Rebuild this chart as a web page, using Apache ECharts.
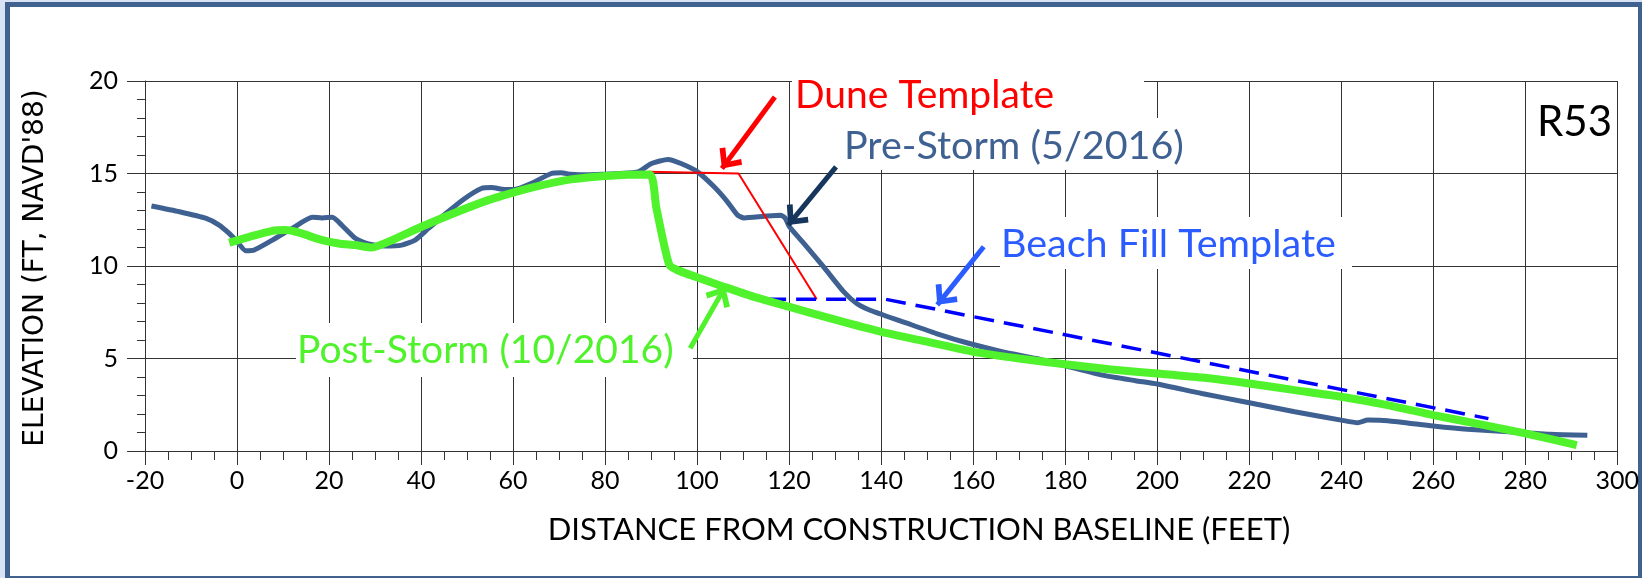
<!DOCTYPE html>
<html lang="en">

<head>
  <meta charset="UTF-8">
  <title>R53 profile</title>
  <style>
    body { margin: 0; background: #dae3f3; overflow: hidden; }
    #frame { position: absolute; left: 5px; top: 2px; width: 1638px; height: 579px; box-sizing: border-box; border: 5px solid #41628f; background: #fff; }
    #chart { position: absolute; left: 0; top: 0; width: 1642px; height: 578px; }
  </style>
</head>

<body>
<div id="frame"></div>
<div id="chart"></div>
  <script src="https://cdn.jsdelivr.net/npm/echarts@6/dist/echarts.min.js"></script>
  <script>

// profile data [distance ft, elevation ft]
const preStorm = [
  [-18.6, 13.24], [-12.5, 12.93], [-6.7, 12.57], [-3.8, 12.2], [-1.7, 11.76], [0.1, 11.3],
  [1.9, 10.83], [3.7, 10.86], [7.7, 11.4], [12, 12.03], [16.4, 12.63], [18.5, 12.6],
  [20.7, 12.63], [22.8, 12.2], [25.7, 11.5], [28.6, 11.19], [32.2, 11.08], [35.8, 11.13],
  [38.7, 11.4], [41.6, 12.03], [45.2, 12.8], [49.5, 13.65], [53.1, 14.19], [55.3, 14.24],
  [58.2, 14.14], [60.3, 14.14], [63.9, 14.46], [68.3, 15.0], [70.4, 15.04], [72.6, 14.96],
  [76.2, 14.93], [79.8, 14.96], [83.4, 15.0], [87.2, 15.09], [90.1, 15.54], [93.7, 15.76],
  [96.5, 15.54], [100.1, 15.09], [103.7, 14.28], [106.6, 13.47], [108.8, 12.75], [110.2, 12.6],
  [114.6, 12.69], [118.2, 12.75], [119.2, 12.57], [120, 12.15], [123.2, 11.22], [127.5, 9.95],
  [131.9, 8.6], [134.7, 7.97], [137.6, 7.61], [144.8, 6.98], [152, 6.35], [159.2, 5.81],
  [166.5, 5.36], [173.7, 5.0], [180.9, 4.55], [188.1, 4.1], [195.3, 3.8], [200, 3.62],
  [209.7, 3.11], [220, 2.61], [229.9, 2.12], [240, 1.67], [243.6, 1.53], [245.8, 1.67],
  [250.1, 1.64], [260, 1.35], [267.4, 1.17], [280, 0.99], [285.4, 0.9], [293.5, 0.85]
];
const postStorm = [
  [-1.7, 11.26], [2.7, 11.58], [7.7, 11.9], [10.6, 11.94], [13.5, 11.8], [18.5, 11.4],
  [22.1, 11.22], [25.7, 11.13], [29.3, 11.0], [33.7, 11.4], [40.1, 12.12], [47.4, 12.88],
  [54.6, 13.56], [60, 13.97], [65.4, 14.32], [72.6, 14.68], [80, 14.87], [89.7, 14.95],
  [91.1, 13.2], [92.6, 11.4], [94, 10.05], [95.8, 9.77], [100.1, 9.38], [105.9, 8.87],
  [112.4, 8.33], [120.1, 7.79], [130.4, 7.07], [140.1, 6.44], [148.4, 5.99], [160.1, 5.36],
  [170, 5.0], [180, 4.69], [189.5, 4.42], [200, 4.19], [209.7, 3.97], [220, 3.65],
  [229.9, 3.29], [240, 2.93], [250.1, 2.48], [260, 1.94], [270.3, 1.44], [280, 0.95], [291.2, 0.32]
];
const duneTemplate = [[89.5, 15.1], [109, 15.0], [126, 8.2]];
const beachFill = [[115, 8.2], [141, 8.2], [272, 1.75]];

// callout arrows: [tail, tip]
const duneArrow = [[116.9, 19.14], [105.4, 15.27]];
const preArrow = [[130.2, 15.36], [119.8, 12.21]];
const beachArrow = [[162.3, 11.04], [152.2, 7.9]];
const postArrow = [[98.5, 5.56], [106.1, 8.88]];

// open arrow head, tip at the centre of its box
const arrowHead = 'path://M0,0 L10,11 L7,14 L0,6 L-7,14 L-10,11 Z M0,-14 L0,-14';

function arrow(pts, color) {
  return {
    silent: true,
    animation: false,
    symbol: ['none', arrowHead],
    symbolSize: [28, 38],
    label: { show: false },
    lineStyle: { color: color, width: 5, type: 'solid' },
    data: [[{ coord: pts[0] }, { coord: pts[1] }]]
  };
}

const gridColor = '#333';

function whiteBox(x, y, w, h) {
  return { type: 'rect', z: 1, shape: { x: x, y: y, width: w, height: h }, style: { fill: '#fff' } };
}
function label(x, y, text, color, size) {
  return {
    type: 'text', z: 1, x: x, y: y,
    style: { text: text, fill: color, font: size + 'px Lato', textVerticalAlign: 'middle', verticalAlign: 'middle' }
  };
}

let myCharts = echarts.init(document.querySelector('#chart'));
myCharts.setOption({
  animation: false,
  grid: { left: 145, right: 18, top: 81, bottom: 127 },
  xAxis: {
    type: 'value',
    min: -20,
    max: 300,
    interval: 20,
    axisLine: { show: true, onZero: false, lineStyle: { color: gridColor } },
    axisTick: { show: true, length: 14, lineStyle: { color: gridColor } },
    minorTick: { show: true, splitNumber: 4, length: 9, lineStyle: { color: gridColor } },
    splitLine: { show: true, lineStyle: { color: gridColor } },
    axisLabel: { margin: 17, fontFamily: 'Lato', fontSize: 25, color: '#000' }
  },
  yAxis: {
    type: 'value',
    min: 0,
    max: 20,
    interval: 5,
    axisLine: { show: true, onZero: false, lineStyle: { color: gridColor } },
    axisTick: { show: true, length: 18, lineStyle: { color: gridColor } },
    minorTick: { show: true, splitNumber: 5, length: 8, lineStyle: { color: gridColor } },
    splitLine: { show: true, lineStyle: { color: gridColor } },
    axisLabel: { margin: 27, fontFamily: 'Lato', fontSize: 25, color: '#000' }
  },
  graphic: [
    whiteBox(792, 79, 352, 39),
    whiteBox(800, 118, 400, 52),
    whiteBox(1000, 217, 352, 52),
    whiteBox(296, 323, 397, 54),
    label(795, 95, 'Dune Template', '#ff0000', 39),
    label(844, 146, 'Pre-Storm (5/2016)', '#3f6192', 39.5),
    label(1001, 244, 'Beach Fill Template', '#2b5cff', 39.5),
    label(297, 350, 'Post-Storm (10/2016)', '#4ff22b', 39),
    label(1537, 122, 'R53', '#000', 42),
    {
      type: 'text', x: 919, y: 530,
      style: { text: 'DISTANCE FROM CONSTRUCTION BASELINE (FEET)', fill: '#000', font: '31px Lato',
        textAlign: 'center', align: 'center', textVerticalAlign: 'middle', verticalAlign: 'middle' }
    },
    {
      type: 'text', x: 36, y: 268, rotation: Math.PI / 2,
      style: { text: "ELEVATION (FT, NAVD'88)", fill: '#000', font: '28px "DejaVu Sans"',
        textAlign: 'center', align: 'center', textVerticalAlign: 'middle', verticalAlign: 'middle' }
    }
  ],
  series: [
    {
      name: 'Pre-Storm (5/2016)',
      type: 'line',
      data: preStorm,
      showSymbol: false,
      smooth: 0.2,
      lineStyle: { color: '#3f6192', width: 5 },
      markLine: arrow(preArrow, '#17365d')
    },
    {
      name: 'Dune Template',
      type: 'line',
      data: duneTemplate,
      showSymbol: false,
      lineStyle: { color: '#ff0000', width: 2 },
      markLine: arrow(duneArrow, '#ff0000')
    },
    {
      name: 'Beach Fill Template',
      type: 'line',
      data: beachFill,
      showSymbol: false,
      lineStyle: { color: '#0000ff', width: 3.5, type: [20, 10] },
      markLine: arrow(beachArrow, '#2b5cff')
    },
    {
      name: 'Post-Storm (10/2016)',
      type: 'line',
      data: postStorm,
      showSymbol: false,
      smooth: 0.2,
      lineStyle: { color: '#4ff22b', width: 8 },
      markLine: arrow(postArrow, '#4ff22b')
    }
  ]
});
window.addEventListener('resize', () => {
  myCharts.resize();
})
  </script>
</body>

</html>
